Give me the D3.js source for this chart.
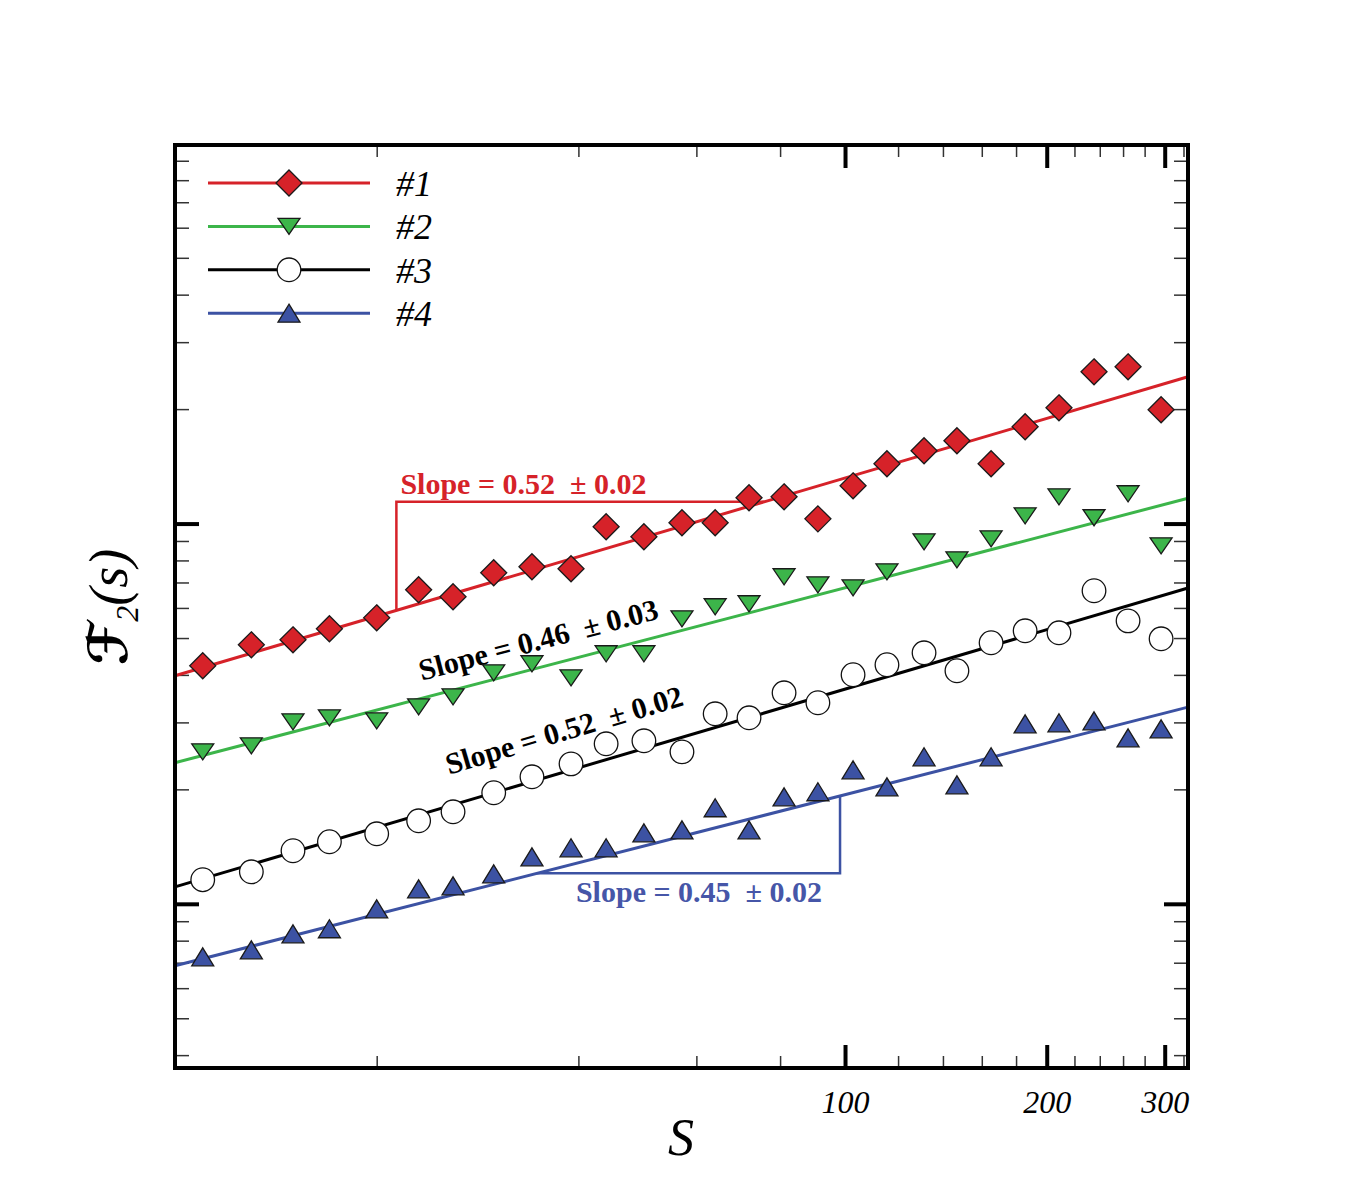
<!DOCTYPE html>
<html>
<head>
<meta charset="utf-8">
<script src="https://cdn.jsdelivr.net/npm/d3@7"></script>
<style>
  body { margin: 0; background: #fff; }
  text { font-family: "Liberation Serif", "Times New Roman", serif; }
</style>
</head>
<body>
<script>
// window sizes s (x axis)
var scales = [11.0, 13.0, 15.0, 17.0, 20.0, 23.1, 26.0, 29.9, 34.1, 39.0, 44.0, 50.1, 57.1, 64.0,
  71.9, 81.1, 91.1, 102.8, 115.5, 131.2, 146.9, 165.2, 185.7, 208.6, 235.3, 264.5, 296.3];

// fluctuation function F2(s) for each record
var f1 = [4.227, 4.799, 4.947, 5.288, 5.652, 6.697, 6.419, 7.423, 7.698, 7.605, 9.808, 9.233, 10.05, 10.05,
  11.69, 11.76, 10.29, 12.57, 14.37, 15.54, 16.51, 14.37, 17.97, 20.16, 25.07, 25.84, 19.92];
var f2 = [2.510, 2.603, 3.011, 3.085, 3.029, 3.297, 3.503, 4.051, 4.279, 3.930, 4.546, 4.546, 5.618, 6.043,
  6.153, 7.246, 6.902, 6.778, 7.468, 8.956, 8.029, 9.120, 10.48, 11.76, 10.36, 11.98, 8.742];
var f3 = [1.157, 1.214, 1.379, 1.456, 1.528, 1.653, 1.746, 1.959, 2.158, 2.334, 2.635, 2.684, 2.510, 3.160,
  3.085, 3.589, 3.379, 4.003, 4.253, 4.573, 4.101, 4.859, 5.224, 5.161, 6.658, 5.549, 4.977];
var f4 = [0.7254, 0.7568, 0.834, 0.8598, 0.9701, 1.095, 1.115, 1.199, 1.329, 1.404, 1.404, 1.537, 1.565, 1.789,
  1.565, 1.911, 1.971, 2.251, 2.031, 2.436, 2.056, 2.436, 2.974, 2.993, 3.029, 2.733, 2.885];

var seriesNames = ["#1", "#2", "#3", "#4"];
var fitSlopes = [0.52, 0.46, 0.52, 0.45];
var fitAmp = [3.98, 2.35, 1.108, 0.687];   // fitted F2 at s = 10
var slopeLabels = ["Slope = 0.52  \u00b1 0.02", "Slope = 0.46  \u00b1 0.03",
  "Slope = 0.52  \u00b1 0.02", "Slope = 0.45  \u00b1 0.02"];

var xMajor = [100, 200, 300];
var xMinor = [10, 20, 40, 60, 80, 120, 140, 160, 180, 220, 240, 260, 280, 320];
var yMajor = [1, 10];
var yMinor = [0.4, 0.5, 0.6, 0.7, 0.8, 0.9, 2, 3, 4, 5, 6, 7, 8, 9, 20, 30, 40, 50, 60, 70, 80, 90];

var colors = ["#d62229", "#3cb54a", "#000000", "#3c52a3"];
var shapes = ["diamond", "down", "circle", "up"];
var series = [f1, f2, f3, f4];

var W = 1355, H = 1203;
var L = 175, R = 1188, T = 145, B = 1068;

var svg = d3.select("body").append("svg")
  .attr("width", W)
  .attr("height", H);

var x = d3.scaleLog().domain([10, 325]).range([L, R]);
var y = d3.scaleLog().domain([0.37, 99]).range([B, T]);

function fit(i, s) {
  return fitAmp[i] * Math.pow(s / 10, fitSlopes[i]);
}

//marker shapes, centred on the point
function drawMarker(sel, shape, color) {
  if (shape === "circle") {
    sel.append("circle").attr("r", 11.8)
      .attr("fill", "#fff").attr("stroke", "#111").attr("stroke-width", 1.3);
    return;
  }
  var d;
  if (shape === "diamond") d = "M0,-13L13,0L0,13L-13,0Z";
  if (shape === "down") d = "M-11,-8L11,-8L0,8Z";
  if (shape === "up") d = "M0,-9L11,9L-11,9Z";
  sel.append("path").attr("d", d)
    .attr("fill", color).attr("stroke", "#1a1a1a").attr("stroke-width", 1.3);
}

// axes
function axis(gen, pos, vals, size, width, color, labels) {
  var a = gen.tickValues(vals).tickSize(size).tickPadding(22);
  a.tickFormat(labels ? d3.format("d") : "");
  var g = svg.append("g").attr("transform", pos).call(a);
  g.select(".domain").remove();
  g.selectAll(".tick line").attr("stroke", color).attr("stroke-width", width);
  g.selectAll(".tick text")
    .style("font-family", "'Liberation Serif', serif")
    .style("font-style", "italic")
    .style("font-size", "32px")
    .attr("fill", "#000");
  return g;
}

axis(d3.axisBottom(x), "translate(0," + B + ")", xMinor, -12, 1.5, "#333", false);
axis(d3.axisBottom(x), "translate(0," + B + ")", xMajor, -23, 4, "#000", true);
axis(d3.axisTop(x), "translate(0," + T + ")", xMinor, -12, 1.5, "#333", false);
axis(d3.axisTop(x), "translate(0," + T + ")", xMajor, -23, 4, "#000", false);
axis(d3.axisLeft(y), "translate(" + L + ",0)", yMinor, -14, 1.5, "#333", false);
axis(d3.axisLeft(y), "translate(" + L + ",0)", yMajor, -24, 4, "#000", false);
axis(d3.axisRight(y), "translate(" + R + ",0)", yMinor, -14, 1.5, "#333", false);
axis(d3.axisRight(y), "translate(" + R + ",0)", yMajor, -24, 4, "#000", false);

// fitted power laws
var line = d3.line()
  .x(function (d) { return x(d[0]); })
  .y(function (d) { return y(d[1]); });

var fitG = svg.append("g");
series.forEach(function (s, i) {
  fitG.append("path")
    .attr("d", line([[10, fit(i, 10)], [325, fit(i, 325)]]))
    .attr("fill", "none")
    .attr("stroke", colors[i])
    .attr("stroke-width", 3);
});

// slope triangles for #1 and #4
var tri1 = [21.4, 75.8];
var tri4 = [34.7, 98.3];
svg.append("path")
  .attr("d", line([[tri1[0], fit(0, tri1[0])], [tri1[0], fit(0, tri1[1])], [tri1[1], fit(0, tri1[1])]]))
  .attr("fill", "none").attr("stroke", colors[0]).attr("stroke-width", 2.5);
svg.append("path")
  .attr("d", line([[tri4[0], fit(3, tri4[0])], [tri4[1], fit(3, tri4[0])], [tri4[1], fit(3, tri4[1])]]))
  .attr("fill", "none").attr("stroke", colors[3]).attr("stroke-width", 2.5);

function slopeText(sel, i) {
  return sel.text(slopeLabels[i])
    .style("white-space", "pre")
    .style("font-weight", "bold")
    .style("font-size", "30px");
}

slopeText(svg.append("text")
  .attr("x", x(tri1[0]) + 4)
  .attr("y", y(fit(0, tri1[1])) - 8)
  .attr("fill", colors[0]), 0);

slopeText(svg.append("text")
  .attr("x", x(tri4[1]) - 18)
  .attr("y", y(fit(3, tri4[0])) + 29)
  .attr("text-anchor", "end")
  .attr("fill", "#4656a8"), 3);

// labels that follow the #2 and #3 lines
[[1, 23.7, -17], [2, 26.4, -30]].forEach(function (p) {
  var i = p[0], s0 = p[1];
  var x0 = x(s0), y0 = y(fit(i, s0));
  var ang = Math.atan2(y(fit(i, 300)) - y(fit(i, 10)), x(300) - x(10)) * 180 / Math.PI;
  slopeText(svg.append("text")
    .attr("transform", "translate(" + x0 + "," + y0 + ") rotate(" + ang + ")")
    .attr("y", p[2])
    .attr("fill", "#000"), i);
});

// data points
series.forEach(function (s, i) {
  var g = svg.append("g");
  g.selectAll("g")
    .data(s)
    .enter()
    .append("g")
    .attr("transform", function (d, j) {
      return "translate(" + x(scales[j]) + "," + y(d) + ")";
    })
    .each(function () {
      drawMarker(d3.select(this), shapes[i], colors[i]);
    });
});

// frame
svg.append("rect")
  .attr("x", L).attr("y", T)
  .attr("width", R - L).attr("height", B - T)
  .attr("fill", "none")
  .attr("stroke", "#000")
  .attr("stroke-width", 4);

// legend
var legend = svg.append("g");
seriesNames.forEach(function (name, i) {
  var ly = 183 + i * 43.4;
  legend.append("line")
    .attr("x1", 208).attr("x2", 370)
    .attr("y1", ly).attr("y2", ly)
    .attr("stroke", colors[i]).attr("stroke-width", 3);
  drawMarker(legend.append("g").attr("transform", "translate(289," + ly + ")"), shapes[i], colors[i]);
  legend.append("text")
    .attr("x", 396).attr("y", ly + 13)
    .style("font-style", "italic")
    .style("font-size", "36px")
    .text(name);
});

// axis titles
svg.append("text")
  .attr("x", 681).attr("y", 1155)
  .attr("text-anchor", "middle")
  .style("font-style", "italic")
  .style("font-size", "52px")
  .text("S");

var yl = svg.append("text")
  .attr("transform", "translate(127,607) rotate(-90)")
  .attr("text-anchor", "middle")
  .style("font-size", "54px");
yl.append("tspan")
  .style("font-family", "'DejaVu Serif', 'DejaVu Sans', serif")
  .style("font-weight", "bold")
  .style("font-style", "italic")
  .text("\u2131");
yl.append("tspan")
  .attr("dy", 11)
  .style("font-size", "32px")
  .style("font-style", "italic")
  .text("2");
yl.append("tspan")
  .attr("dy", -11)
  .style("font-style", "italic")
  .text("(s)");
</script>
</body>
</html>
